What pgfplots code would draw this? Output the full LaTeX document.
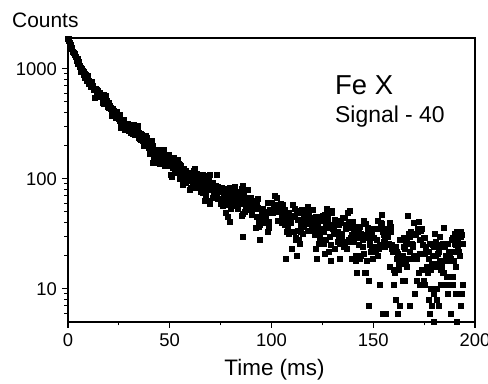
\documentclass[border=0pt]{standalone}
\usepackage{fontspec}
\setmainfont{Liberation Sans}
\usepackage{pgfplots}
\pgfplotsset{compat=1.18}
\begin{document}
\begin{tikzpicture}
\begin{axis}[name=ax,
  scale only axis, width=407bp, height=284bp,
  xmin=0, xmax=200, ymode=log, ymin=5, ymax=1900,
  xtick={0,50,100,150,200}, xticklabels={0,50,100,150,200},
  minor xtick={25,75,125,175},
  ytick={10,100,1000}, yticklabels={10,100,1000},
  minor ytick={6,7,8,9,20,30,40,50,60,70,80,90,200,300,400,500,600,700,800,900},
  xtick pos=bottom, ytick pos=left, tick align=outside,
  major tick length=6bp, minor tick length=3.5bp,
  axis line style={line width=1.3bp},
  every tick/.style={black, line width=1.1bp},
  tick label style={font=\fontsize{18.5}{22}\selectfont},
  xticklabel style={inner sep=0pt, yshift=-5bp},
  yticklabel style={inner sep=0pt, xshift=-5bp},
]
\addplot[only marks, mark=square*, mark size=2.5bp, black, mark options={line width=0.2bp}] coordinates {
(0,1863)(0.5,1792)(1,1605)(1.5,1525)(2,1511)(2.5,1430)(3,1354)(3.5,1283)(4,1212)(4.5,1228)(5,1168)(5.5,1058)(6,1023)(6.5,995)(7,931)(7.5,882)(8,908)(8.5,884)(9,830)(9.5,811)(10,734)(10.5,749)(11,760)(11.5,766)(12,701)(12.5,646)(13,642)(13.5,645)(14,644)(14.5,582)(15,568)(15.5,578)(16,560)(16.5,571)(17,494)(17.5,484)(18,512)(18.5,490)(19,518)(19.5,457)(20,446)(20.5,465)(21,433)(21.5,377)(22,430)(22.5,419)(23,380)(23.5,392)(24,404)(24.5,356)(25,370)(25.5,379)(26,309)(26.5,340)(27,346)(27.5,340)(28,309)(28.5,284)(29,307)(29.5,304)(30,308)(30.5,290)(31,262)(31.5,256)(32,277)(32.5,279)(33,257)(33.5,257)(34,276)(34.5,237)(35,232)(35.5,258)(36,231)(36.5,223)(37,200)(37.5,203)(38,226)(38.5,219)(39,208)(39.5,201)(40,192)(40.5,169)(41,220)(41.5,200)(42,170)(42.5,186)(43,184)(43.5,170)(44,161)(44.5,184)(45,169)(45.5,152)(46,178)(46.5,160)(47,137)(47.5,133)(48,150)(48.5,154)(49,140)(49.5,166)(50,152)(50.5,133)(51,105)(51.5,133)(52,140)(52.5,139)(53,131)(53.5,116)(54,114)(54.5,137)(55,134)(55.5,122)(56,116)(56.5,89)(57,123)(57.5,119)(58,93)(58.5,102)(59,113)(59.5,107)
(0.25,1891)(0.75,1713)(1.25,1644)(1.75,1569)(2.25,1424)(2.75,1399)(3.25,1370)(3.75,1298)(4.25,1191)(4.75,1111)(5.25,1151)(5.75,1042)(6.25,949)(6.75,948)(7.25,951)(7.75,948)(8.25,826)(8.75,863)(9.25,782)(9.75,857)(10.25,782)(10.75,742)(11.25,687)(11.75,722)(12.25,684)(12.75,648)(13.25,551)(13.75,655)(14.25,596)(14.75,638)(15.25,558)(15.75,610)(16.25,572)(16.75,554)(17.25,582)(17.75,541)(18.25,564)(18.75,503)(19.25,474)(19.75,497)(20.25,460)(20.75,440)(21.25,391)(21.75,372)(22.25,410)(22.75,388)(23.25,362)(23.75,356)(24.25,382)(24.75,353)(25.25,339)(25.75,291)(26.25,305)(26.75,342)(27.25,343)(27.75,278)(28.25,313)(28.75,320)(29.25,315)(29.75,272)
(30.25,309)(30.75,269)(31.25,267)(31.75,275)(32.25,309)(32.75,252)(33.25,255)(33.75,289)(34.25,301)(34.75,260)(35.25,250)(35.75,228)(36.25,251)(36.75,249)(37.25,229)(37.75,215)(38.25,247)(38.75,235)(39.25,203)(39.75,192)(40.25,170)(40.75,190)(41.25,175)(41.75,140)(42.25,159)(42.75,139)(43.25,162)(43.75,157)(44.25,141)(44.75,177)(45.25,138)(45.75,168)(46.25,142)(46.75,183)(47.25,159)(47.75,148)(48.25,138)(48.75,164)(49.25,146)(49.75,135)(50.25,109)(50.75,153)(51.25,127)(51.75,155)(52.25,113)(52.75,125)(53.25,139)(53.75,150)(54.25,127)(54.75,100)(55.25,133)(55.75,122)(56.25,103)(56.75,98)(57.25,108)(57.75,119)(58.25,96)(58.75,98)(59.25,104)(59.75,80)
(60,101)(60.5,99)(61,110)(61.5,119)(62,124)(62.5,100)(63,111)(63.5,106)(64,95)(64.5,97)(65,84)(65.5,104)(66,75)(66.5,82)(67,63)(67.5,71)(68,103)(68.5,91)(69,106)(69.5,60)(70,81)(70.5,79)(71,68)(71.5,72)(72,68)(72.5,86)(73,71)(73.5,85)(74,78)(74.5,76)(75,80)(75.5,84)(76,81)(76.5,68)(77,82)(77.5,77)(78,74)(78.5,74)(79,72)(79.5,83)(80,70)(80.5,71)(81,57)(81.5,78)(82,65)(82.5,59)(83,59)(83.5,54)(84,59)(84.5,62)(85,63)(85.5,46)(86,48)(86.5,73)(87,50)(87.5,68)(88,62)(88.5,65)(89,62)(89.5,55)
(90,55)(90.5,61)(91,62)(91.5,59)(92,63)(92.5,45)(93,66)(93.5,41)(94,38)(94.5,54)(95,52)(95.5,48)(96,43)(96.5,47)(97,45)(97.5,50)(98,61)(98.5,41)(99,52)(99.5,51)(100,61)(100.5,50)(101,52)(101.5,50)(102,52)(102.5,55)(103,42)(103.5,53)(104,54)(104.5,50)(105,45)(105.5,46)(106,51)(106.5,38)(107,49)(107.5,33)(108,36)(108.5,32)(109,40)(109.5,40)(110,23)(110.5,58)(111,45)(111.5,54)(112,28)(112.5,20)(113,34)(113.5,28)(114,49)(114.5,33)(115,41)(115.5,39)(116,46)(116.5,49)(117,39)(117.5,56)(118,51)(118.5,43)(119,34)(119.5,35)
(120,40)(120.5,40)(121,31)(121.5,23)(122,19)(122.5,35)(123,26)(123.5,29)(124,35)(124.5,33)(125,42)(125.5,26)(126,47)(126.5,40)(127,54)(127.5,47)(128,22)(128.5,30)(129,18)(129.5,51)(130,35)(130.5,35)(131,43)(131.5,39)(132,42)(132.5,27)(133,38)(133.5,26)(134,31)(134.5,32)(135,27)(135.5,24)(136,25)(136.5,35)(137,23)(137.5,27)(138,28)(138.5,27)(139,29)(139.5,19)(140,28)(140.5,27)(141,37)(141.5,20)(142,30)(142.5,34)(143,33)(143.5,37)(144,32)(144.5,29)(145,28)(145.5,42)(146,39)(146.5,18)(147,36)(147.5,7)(148,25)(148.5,22)(149,24)(149.5,29)
(150,29)(150.5,24)(151,22)(151.5,24)(152,20)(152.5,35)(153,11)(153.5,37)(154,39)(154.5,25)(155,27)(155.5,29)(156,33)(156.5,30)(157,31)(157.5,26)(158,16)(158.5,33)(159,23)(159.5,23)(160,15)(160.5,23)(161,22)(161.5,22)(162,21)(162.5,17)(163,28)(163.5,19)(164,17)(164.5,20)(165,24)(165.5,23)(166,18)(166.5,29)(167,19)(167.5,32)(168,30)(168.5,33)(169,26)(169.5,25)(170,40)(170.5,9)(171,20)(171.5,12)(172,35)(172.5,41)(173,28)(173.5,34)(174,15)(174.5,29)(175,21)(175.5,22)(176,16)(176.5,14)(177,22)(177.5,6)(178,10)(178.5,17)(179,25)(179.5,24)
(180,17)(180.5,27)(181,16)(181.5,21)(182,22)(182.5,18)(183,15)(183.5,16)(184,26)(184.5,14)(185,18)(185.5,19)(186,18)(186.5,20)(187,11)(187.5,20)(188,19)(188.5,28)(189,13)(189.5,22)(190,26)(190.5,25)(191,28)(191.5,24)(192,22)(192.5,20)(193,33)(193.5,31)(194,11)
(154.5,6)(156,6)(159.8,11)(160.8,8)(168,7)(173,11)(175,11)(177,8)(178.5,7)(179.5,5)(184.5,11)(189,11)(186.5,9)(188,6)(191,5)(193,7)(181,8)(182,7)(190.5,9)(193.5,9)(86,30)(79.2,41)(69.8,110)(85.2,82)(88.5,80)
(60.25,84)(60.75,100)(61.25,93)(61.75,89)(62.25,105)(62.75,94)(63.25,84)(63.75,86)(64.25,98)(64.75,104)(65.25,77)(65.75,94)(66.25,108)(66.75,98)(67.25,86)(67.75,75)(68.25,102)(68.75,80)(69.25,96)(69.75,63)(70.25,79)(70.75,83)(71.25,93)(71.75,74)(72.25,78)(72.75,83)(73.25,108)(73.75,66)(74.25,80)(74.75,60)(75.25,81)(75.75,57)(76.25,64)(76.75,65)(77.25,49)(77.75,58)(78.25,45)(78.75,62)(79.25,68)(79.75,54)(80.25,64)(80.75,67)(81.25,82)(81.75,85)(82.25,65)(82.75,70)(83.25,77)(83.75,75)(84.25,60)(84.75,69)(85.25,70)(85.75,87)(86.25,78)(86.75,59)(87.25,55)(87.75,79)(88.25,60)(88.75,53)(89.25,52)(89.75,67)
(90.25,47)(90.75,62)(91.25,61)(91.75,54)(92.25,36)(92.75,59)(93.25,55)(93.75,37)(94.25,28)(94.75,44)(95.25,47)(95.75,54)(96.25,41)(96.75,40)(97.25,46)(97.75,50)(98.25,33)(98.75,36)(99.25,49)(99.75,52)(100.25,61)(100.75,49)(101.25,54)(101.75,70)(102.25,58)(102.75,67)(103.25,53)(103.75,54)(104.25,60)(104.75,40)(105.25,58)(105.75,41)(106.25,53)(106.75,19)(107.25,40)(107.75,44)(108.25,49)(108.75,33)(109.25,41)(109.75,45)(110.25,58)(110.75,33)(111.25,46)(111.75,29)(112.25,51)(112.75,43)(113.25,34)(113.75,26)(114.25,38)(114.75,52)(115.25,32)(115.75,37)(116.25,46)(116.75,48)(117.25,42)(117.75,34)(118.25,46)(118.75,44)(119.25,39)(119.75,52)
(120.25,52)(120.75,39)(121.25,43)(121.75,45)(122.25,32)(122.75,39)(123.25,45)(123.75,43)(124.25,33)(124.75,28)(125.25,46)(125.75,33)(126.25,21)(126.75,28)(127.25,36)(127.75,43)(128.25,22)(128.75,38)(129.25,25)(129.75,49)(130.25,36)(130.75,32)(131.25,23)(131.75,38)(132.25,33)(132.75,29)(133.25,19)(133.75,40)(134.25,29)(134.75,44)(135.25,26)(135.75,44)(136.25,38)(136.75,37)(137.25,49)(137.75,41)(138.25,51)(138.75,36)(139.25,31)(139.75,41)(140.25,33)(140.75,30)(141.25,18)(141.75,14)(142.25,29)(142.75,25)(143.25,19)(143.75,20)(144.25,31)(144.75,24)(145.25,21)(145.75,14)(146.25,14)(146.75,29)(147.25,32)(147.75,12)(148.25,26)(148.75,31)(149.25,32)(149.75,19)
(150.25,35)(150.75,22)(151.25,23)(151.75,28)(152.25,42)(152.75,23)(153.25,25)(153.75,40)(154.25,47)(154.75,33)(155.25,31)(155.75,24)(156.25,35)(156.75,35)(157.25,30)(157.75,25)(158.25,40)(158.75,37)(159.25,25)(159.75,22)(160.25,14)(160.75,24)(161.25,19)(161.75,6)(162.25,15)(162.75,7)(163.25,19)(163.75,18)(164.25,12)(164.75,29)(165.25,12)(165.75,27)(166.25,16)(166.75,46)(167.25,26)(167.75,22)(168.25,19)(168.75,32)(169.25,24)(169.75,20)(170.25,9)(170.75,31)(171.25,19)(171.75,33)(172.25,14)(172.75,21)(173.25,28)(173.75,35)(174.25,25)(174.75,12)(175.25,29)(175.75,24)(176.25,16)(176.75,14)(177.25,19)(177.75,26)(178.25,15)(178.75,16)(179.25,20)(179.75,9)
(180.25,32)(180.75,20)(181.25,10)(181.75,16)(182.25,24)(182.75,30)(183.25,11)(183.75,25)(184.25,14)(184.75,36)(185.25,24)(185.75,20)(186.25,13)(186.75,26)(187.25,22)(187.75,18)(188.25,6)(188.75,29)(189.25,18)(189.75,32)(190.25,16)(190.75,33)(191.25,27)(191.75,26)(192.25,30)(192.75,30)(193.25,26)(193.75,26)
};
\end{axis}
\node[anchor=base west, inner sep=0pt, xshift=-56bp, yshift=294bp, font=\fontsize{21}{24}\selectfont] at (ax.south west) {Counts};
\node[anchor=base, inner sep=0pt, yshift=-53bp, xshift=3bp, font=\fontsize{22.5}{26}\selectfont] at (ax.south) {Time (ms)};
\node[anchor=base west, inner sep=0pt, xshift=267bp, yshift=227bp, font=\fontsize{27.5}{30}\selectfont] at (ax.south west) {Fe X};
\node[anchor=base west, inner sep=0pt, xshift=267bp, yshift=199bp, font=\fontsize{23}{26}\selectfont] at (ax.south west) {Signal - 40};
\pgfresetboundingbox
\path[use as bounding box] (ax.south west) ++(-68bp,-62bp) rectangle ++(488bp,384bp);
\end{tikzpicture}
\end{document}
